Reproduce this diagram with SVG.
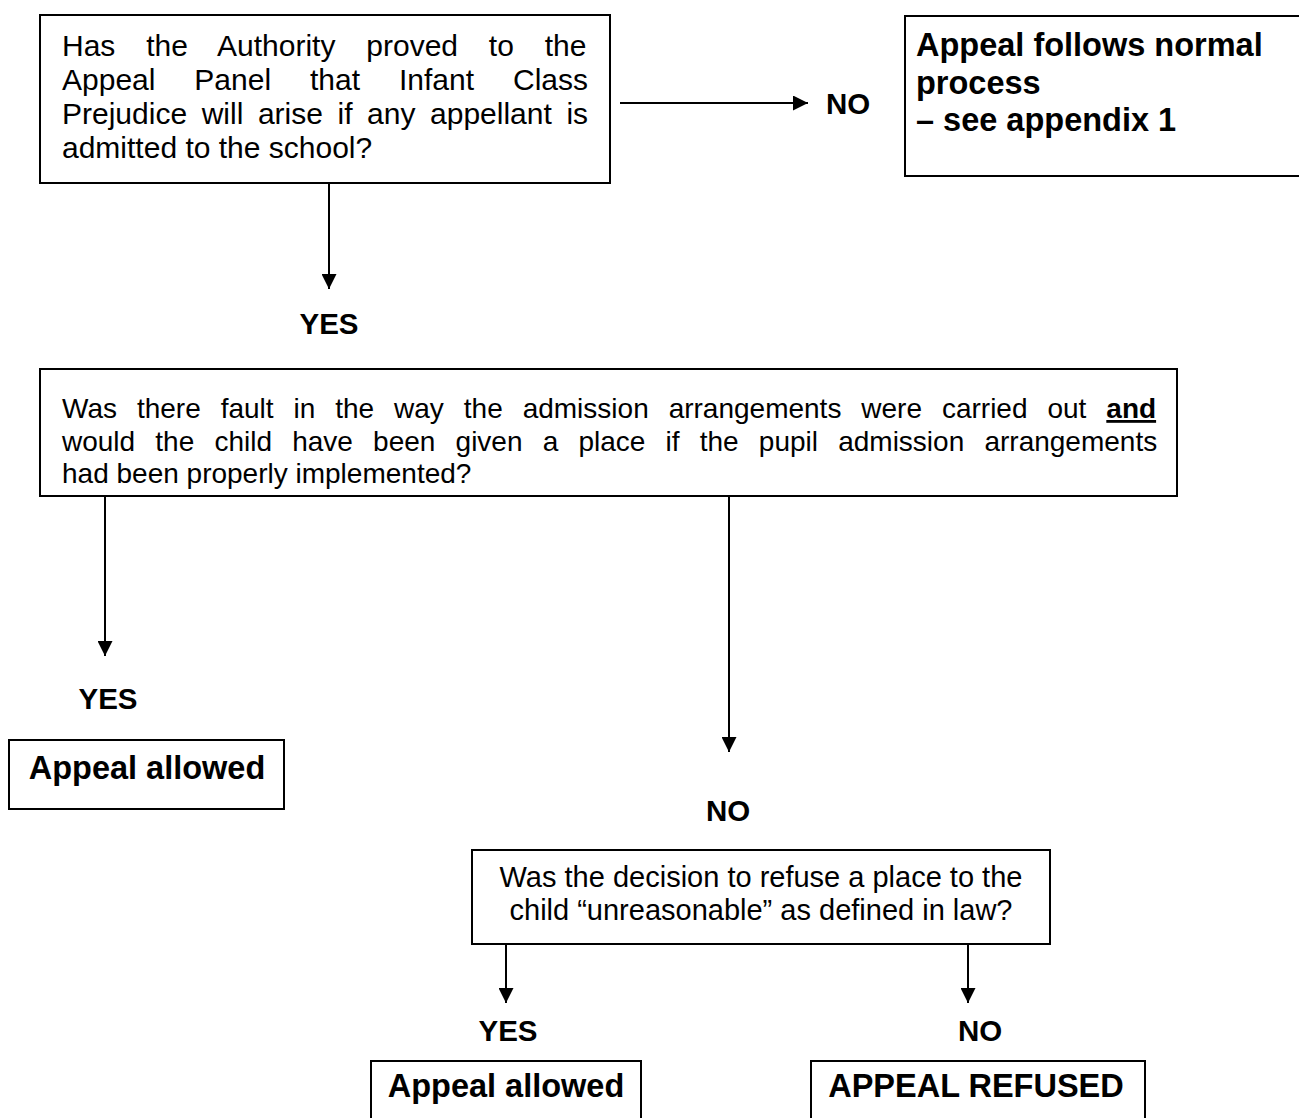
<svg xmlns="http://www.w3.org/2000/svg" width="1299" height="1118" viewBox="0 0 1299 1118">
<style>
.box{fill:#fff;stroke:#000;stroke-width:2}
.t{font-family:"Liberation Sans",Arial,sans-serif;font-size:28px;fill:#000}
.t30{font-family:"Liberation Sans",Arial,sans-serif;font-size:30px;fill:#000}
.t29{font-family:"Liberation Sans",Arial,sans-serif;font-size:29px;fill:#000;text-anchor:middle}
.b{font-family:"Liberation Sans",Arial,sans-serif;font-size:32.5px;font-weight:bold;fill:#000}
.lb{font-family:"Liberation Sans",Arial,sans-serif;font-size:29.5px;font-weight:bold;fill:#000;text-anchor:middle}
.c{stroke:#000;stroke-width:2;fill:none;marker-end:url(#ah)}
</style>
<defs>
<marker id="ah" viewBox="0 0 15 15" refX="15" refY="7.5" markerWidth="15" markerHeight="15" markerUnits="userSpaceOnUse" orient="auto">
<path d="M0,0 L15,7.5 L0,15 Z" fill="#000"/>
</marker>
</defs>
<rect width="1299" height="1118" fill="#fff"/>
<g id="connectors">
<line class="c" x1="620" y1="103" x2="808" y2="103"/>
<line class="c" x1="329" y1="183" x2="329" y2="289"/>
<line class="c" x1="105" y1="496" x2="105" y2="656"/>
<line class="c" x1="729" y1="496" x2="729" y2="752"/>
<line class="c" x1="506" y1="944" x2="506" y2="1003"/>
<line class="c" x1="968" y1="944" x2="968" y2="1003"/>
<text class="lb" x="848" y="114">NO</text>
<text class="lb" x="329" y="334">YES</text>
<text class="lb" x="108" y="709">YES</text>
<text class="lb" x="728" y="821">NO</text>
<text class="lb" x="508" y="1041">YES</text>
<text class="lb" x="980" y="1041">NO</text>
</g>
<g id="q1">
<rect class="box" x="40" y="15" width="570" height="168"/>
<text class="t30" x="62" y="56" word-spacing="22.5">Has the Authority proved to the</text>
<text class="t30" x="62" y="90" word-spacing="30.6">Appeal Panel that Infant Class</text>
<text class="t30" x="62" y="124" word-spacing="6.25">Prejudice will arise if any appellant is</text>
<text class="t30" x="62" y="158">admitted to the school?</text>
</g>
<g id="normal">
<rect class="box" x="905" y="16" width="410" height="160"/>
<text class="b" x="916" y="56">Appeal follows normal</text>
<text class="b" x="916" y="94">process</text>
<text class="b" x="916" y="131">– see appendix 1</text>
</g>
<g id="q2">
<rect class="box" x="40" y="369" width="1137" height="127"/>
<text class="t" x="62" y="418" word-spacing="12.15">Was there fault in the way the admission arrangements were carried out <tspan font-weight="bold" text-decoration="underline">and</tspan></text>
<text class="t" x="62" y="450.5" word-spacing="12.4">would the child have been given a place if the pupil admission arrangements</text>
<text class="t" x="62" y="483">had been properly implemented?</text>
</g>
<g id="allowed1">
<rect class="box" x="9" y="740" width="275" height="69"/>
<text class="b" x="147" y="779" text-anchor="middle">Appeal allowed</text>
</g>
<g id="q3">
<rect class="box" x="472" y="850" width="578" height="94"/>
<text class="t29" x="761" y="887">Was the decision to refuse a place to the</text>
<text class="t29" x="761" y="920">child “unreasonable” as defined in law?</text>
</g>
<g id="allowed2">
<rect class="box" x="371" y="1061" width="270" height="80"/>
<text class="b" x="506" y="1097" text-anchor="middle">Appeal allowed</text>
</g>
<g id="refused">
<rect class="box" x="811" y="1061" width="334" height="80"/>
<text class="b" x="976" y="1097" text-anchor="middle">APPEAL REFUSED</text>
</g>
</svg>
